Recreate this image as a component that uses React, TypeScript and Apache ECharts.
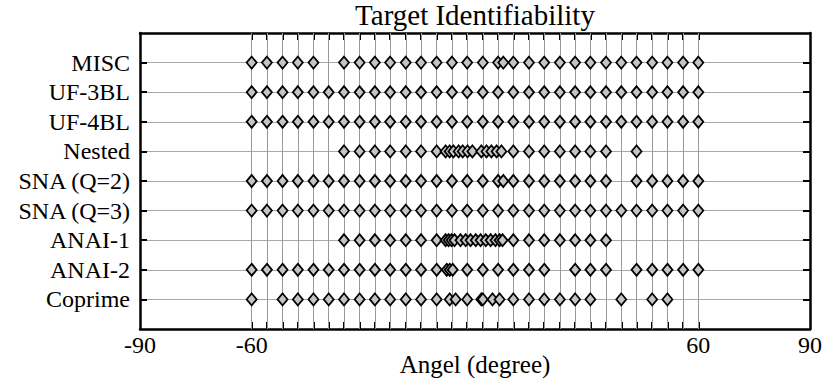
import React, { useEffect, useRef } from "react";
import * as echarts from "echarts";

const methodNames = ["Coprime", "ANAI-2", "ANAI-1", "SNA (Q=3)", "SNA (Q=2)", "Nested", "UF-4BL", "UF-3BL", "MISC"];
const rowTicks = [1, 2, 3, 4, 5, 6, 7, 8, 9];
const targetAngles = [-60, -55.9, -51.7, -47.6, -43.4, -39.3, -35.2, -31.0, -26.9, -22.8, -18.6, -14.5, -10.3, -6.2, -2.1, 2.1, 6.2, 10.3, 14.5, 18.6, 22.8, 26.9, 31.0, 35.2, 39.3, 43.4, 47.6, 51.7, 55.9, 60];
const xTickLabels = [-90, -60, 60, 90];

const coprimeEst = [-60, -51.7, -47.6, -43.4, -39.3, -35.2, -31.0, -26.9, -22.8, -18.6, -14.5, -10.3, -6.8, -5.2, -2.1, 1.7, 2.1, 4.7, 6.6, 10.3, 14.5, 18.6, 22.8, 26.9, 31.0, 39.3, 47.6, 51.7];
const anai2Est = [-60, -55.9, -51.7, -47.6, -43.4, -39.3, -35.2, -31.0, -26.9, -22.8, -18.6, -14.5, -10.3, -7.6, -6.8, -6.0, -2.1, 2.1, 6.2, 10.3, 14.5, 18.6, 26.9, 31.0, 35.2, 43.4, 47.6, 51.7, 55.9, 60];
const anai1Est = [-35.2, -31.0, -26.9, -22.8, -18.6, -14.5, -10.3, -7.9, -7.1, -6.3, -5.5, -3.9, -2.5, -1.2, 0.2, 1.5, 2.9, 4.2, 5.5, 6.6, 7.4, 10.3, 14.5, 18.6, 22.8, 26.9, 31.0, 35.2];
const sna3Est = [-60, -55.9, -51.7, -47.6, -43.4, -39.3, -35.2, -31.0, -26.9, -22.8, -18.6, -14.5, -10.3, -6.2, -2.1, 2.1, 6.2, 10.3, 14.5, 18.6, 22.8, 26.9, 31.0, 35.2, 39.3, 43.4, 47.6, 51.7, 55.9, 60];
const sna2Est = [-60, -55.9, -51.7, -47.6, -43.4, -39.3, -35.2, -31.0, -26.9, -22.8, -18.6, -14.5, -10.3, -6.2, -2.1, 2.1, 6.2, 7.6, 10.3, 14.5, 18.6, 22.8, 26.9, 31.0, 35.2, 43.4, 47.6, 51.7, 55.9, 60];
const nestedEst = [-35.2, -31.0, -26.9, -22.8, -18.6, -14.5, -10.3, -7.9, -6.8, -5.8, -4.4, -3.3, -2.0, -0.7, 1.7, 3.1, 4.4, 5.8, 7.1, 10.3, 14.5, 18.6, 22.8, 26.9, 31.0, 35.2, 43.4];
const uf4Est = [-60, -55.9, -51.7, -47.6, -43.4, -39.3, -35.2, -31.0, -26.9, -22.8, -18.6, -14.5, -10.3, -6.2, -2.1, 2.1, 6.2, 10.3, 14.5, 18.6, 22.8, 26.9, 31.0, 35.2, 39.3, 43.4, 47.6, 51.7, 55.9, 60];
const uf3Est = [-60, -55.9, -51.7, -47.6, -43.4, -39.3, -35.2, -31.0, -26.9, -22.8, -18.6, -14.5, -10.3, -6.2, -2.1, 2.1, 6.2, 10.3, 14.5, 18.6, 22.8, 26.9, 31.0, 35.2, 39.3, 43.4, 47.6, 51.7, 55.9, 60];
const miscEst = [-60, -55.9, -51.7, -47.6, -43.4, -35.2, -31.0, -26.9, -22.8, -18.6, -14.5, -10.3, -6.2, -2.1, 2.1, 6.2, 7.6, 10.3, 14.5, 18.6, 22.8, 26.9, 31.0, 35.2, 39.3, 43.4, 47.6, 51.7, 55.9, 60];

const rowEstimates = [coprimeEst, anai2Est, anai1Est, sna3Est, sna2Est, nestedEst, uf4Est, uf3Est, miscEst];

const FONT = "'Liberation Serif', 'Times New Roman', serif";

export default function App() {
  const ref = useRef<HTMLDivElement>(null);
  useEffect(() => {
    if (!ref.current) return;
    const chart = echarts.init(ref.current, undefined, { renderer: "svg" });
    const axisLine = { show: true, onZero: false, lineStyle: { color: "#000", width: 2.5 } };
    const tickStyle = { color: "#000", width: 2 };
    const textStyle = { color: "#000", fontFamily: FONT, fontSize: 24 };
    chart.setOption({
      animation: false,
      backgroundColor: "#fff",
      title: {
        text: "Target Identifiability",
        left: 475,
        top: 0,
        padding: 0,
        textAlign: "center",
        textStyle: { color: "#000", fontFamily: FONT, fontSize: 29, fontWeight: "normal" },
      },
      grid: { left: 140, right: 20, top: 33, bottom: 53, containLabel: false, outerBoundsMode: "none" },
      xAxis: [
        {
          type: "value",
          min: -90,
          max: 90,
          position: "bottom",
          axisLine,
          axisTick: { show: true, inside: true, length: 7, customValues: targetAngles, lineStyle: tickStyle },
          axisLabel: { show: true, customValues: xTickLabels, margin: 4, ...textStyle },
          splitLine: { show: false },
          name: "Angel (degree)",
          nameLocation: "middle",
          nameGap: 23,
          nameMoveOverlap: false,
          nameTextStyle: { ...textStyle, fontSize: 25 },
        },
        {
          type: "value",
          min: -90,
          max: 90,
          position: "top",
          axisLine,
          axisTick: { show: true, inside: true, length: 7, customValues: targetAngles, lineStyle: tickStyle },
          axisLabel: { show: false },
          splitLine: { show: false },
        },
      ],
      yAxis: [
        {
          type: "value",
          min: 0,
          max: 10,
          interval: 1,
          position: "left",
          axisLine,
          axisTick: { show: true, inside: true, length: 7, customValues: rowTicks, lineStyle: tickStyle },
          axisLabel: {
            show: true,
            customValues: rowTicks,
            margin: 10,
            formatter: (v: number) => methodNames[v - 1] ?? "",
            ...textStyle,
          },
          splitLine: { show: true, lineStyle: { color: "#a8a8a8", width: 1 } },
        },
        {
          type: "value",
          min: 0,
          max: 10,
          interval: 1,
          position: "right",
          axisLine,
          axisTick: { show: true, inside: true, length: 7, customValues: rowTicks, lineStyle: tickStyle },
          axisLabel: { show: false },
          splitLine: { show: false },
        },
      ],
      series: [
        {
          type: "scatter",
          data: [],
          z: 1,
          silent: true,
          markLine: {
            silent: true,
            symbol: ["none", "none"],
            label: { show: false },
            lineStyle: { color: "#9a9a9a", width: 1, type: "solid" },
            emphasis: { disabled: true },
            data: targetAngles.map((t) => ({ xAxis: t })),
          },
        },
        ...rowEstimates.map((arr, i) => ({
          type: "scatter",
          name: methodNames[i],
          data: arr.map((a) => [a, i + 1]),
          symbol: "diamond",
          symbolSize: [10, 12],
          z: 5,
          itemStyle: { color: "#c4c4c4", borderColor: "#000", borderWidth: 1.8, opacity: 1 },
        })),
      ],
    });
    return () => chart.dispose();
  }, []);
  return <div ref={ref} style={{ position: "absolute", left: 0, top: 0, width: 830, height: 382 }} />;
}
